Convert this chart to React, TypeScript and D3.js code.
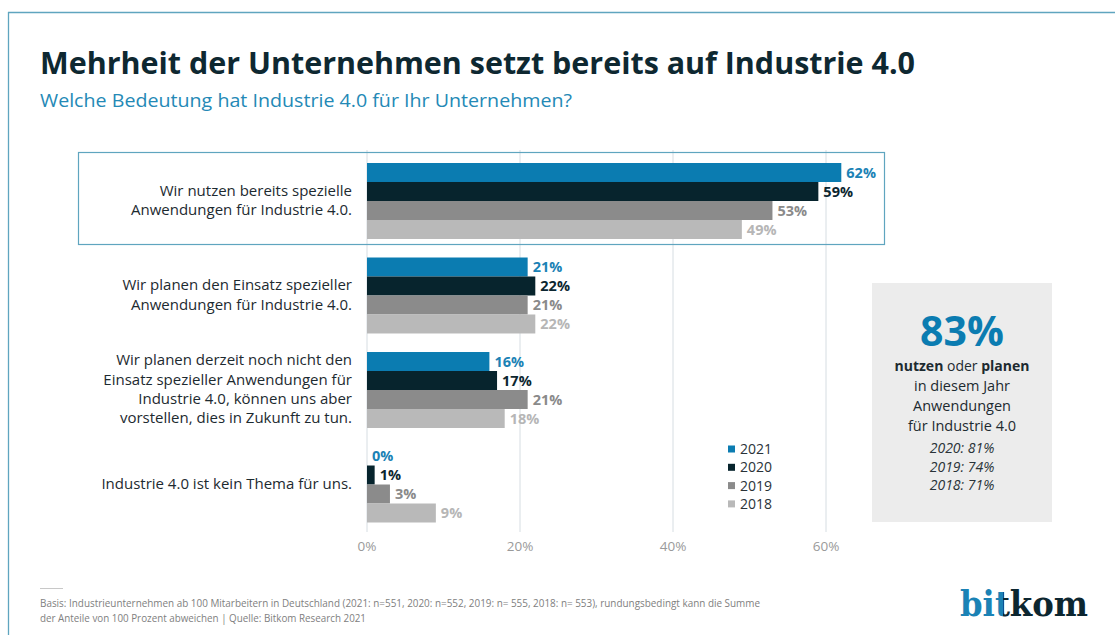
import React from "react";
import * as d3 from "d3";

const categories = [
  "Wir nutzen bereits spezielle Anwendungen für Industrie 4.0.",
  "Wir planen den Einsatz spezieller Anwendungen für Industrie 4.0.",
  "Wir planen derzeit noch nicht den Einsatz spezieller Anwendungen für Industrie 4.0, können uns aber vorstellen, dies in Zukunft zu tun.",
  "Industrie 4.0 ist kein Thema für uns.",
];

const categoryLines = [
  ["Wir nutzen bereits spezielle", "Anwendungen für Industrie 4.0."],
  ["Wir planen den Einsatz spezieller", "Anwendungen für Industrie 4.0."],
  [
    "Wir planen derzeit noch nicht den",
    "Einsatz spezieller Anwendungen für",
    "Industrie 4.0, können uns aber",
    "vorstellen, dies in Zukunft zu tun.",
  ],
  ["Industrie 4.0 ist kein Thema für uns."],
];

const years = ["2021", "2020", "2019", "2018"];
const values2021 = [62, 21, 16, 0];
const values2020 = [59, 22, 17, 1];
const values2019 = [53, 21, 21, 3];
const values2018 = [49, 22, 18, 9];
const tickValues = [0, 20, 40, 60];

const summaryYears = ["2020: 81%", "2019: 74%", "2018: 71%"];

const barColors = ["#0b7cb1", "#07242d", "#8b8b8b", "#b9b9b9"];
const labelColors = ["#1b82b5", "#0c2630", "#8a8a8a", "#b6b6b6"];

const FONT = "'Open Sans', 'Noto Sans', sans-serif";

export default function App() {
  const width = 1115;
  const height = 635;

  const series = [values2021, values2020, values2019, values2018];

  const x = d3.scaleLinear().domain([0, 60]).range([367, 826]);
  const y0 = d3
    .scaleBand<string>()
    .domain(categories)
    .range([163, 522.5])
    .paddingInner(0.196)
    .paddingOuter(0);
  const y1 = d3.scaleBand<string>().domain(years).range([0, y0.bandwidth()]).padding(0);

  // logo: one text, two colours split by a hard gradient stop
  const logoX = 960;
  const logoW = 128;
  const logoSplit = (1003 - logoX) / logoW;

  return (
    <div style={{ position: "absolute", left: 0, top: 0 }}>
      <svg width={width} height={height} style={{ display: "block", background: "#fff" }} fontFamily={FONT}>
        <defs>
          <linearGradient id="logoFill" gradientUnits="userSpaceOnUse" x1={logoX} x2={logoX + logoW} y1={0} y2={0}>
            <stop offset={logoSplit} stopColor="#1b82b5" />
            <stop offset={logoSplit} stopColor="#0c2630" />
          </linearGradient>
        </defs>

        {/* frame */}
        <line x1={8} x2={width} y1={12.5} y2={12.5} stroke="#5fa5bf" strokeWidth={1.3} />
        <line x1={8.5} x2={8.5} y1={12} y2={height} stroke="#5fa5bf" strokeWidth={1.3} />

        {/* title */}
        <text x={40} y={74} fontSize={31} fontWeight={700} fill="#0e2831" textLength={875} lengthAdjust="spacingAndGlyphs">
          Mehrheit der Unternehmen setzt bereits auf Industrie 4.0
        </text>
        <text x={40} y={107} fontSize={18} fill="#2489b6" textLength={532} lengthAdjust="spacingAndGlyphs">
          Welche Bedeutung hat Industrie 4.0 für Ihr Unternehmen?
        </text>

        {/* gridlines */}
        {tickValues.map((t) => (
          <line key={t} x1={x(t)} x2={x(t)} y1={150} y2={532} stroke="#d6dde2" strokeWidth={1} />
        ))}
        {tickValues.map((t) => (
          <text key={"t" + t} x={x(t)} y={551} fontSize={13.5} fill="#9a9a9a" textAnchor="middle">
            {t}%
          </text>
        ))}

        {/* highlight box */}
        <rect x={78.5} y={152.5} width={806} height={92} fill="none" stroke="#5fa5bf" strokeWidth={1.2} />

        {/* bars */}
        {categories.map((c, ci) => (
          <g key={c} transform={`translate(0,${y0(c)})`}>
            {years.map((yr, si) => {
              const v = series[si][ci];
              const by = y1(yr)!;
              return (
                <g key={yr}>
                  <rect x={x(0)} y={by} width={x(v) - x(0)} height={y1.bandwidth()} fill={barColors[si]} />
                  <text
                    x={x(v) + 5}
                    y={by + y1.bandwidth() / 2}
                    dy="0.36em"
                    fontSize={14.5}
                    fontWeight={700}
                    fill={labelColors[si]}
                  >
                    {v}%
                  </text>
                </g>
              );
            })}
          </g>
        ))}

        {/* category labels */}
        {categories.map((c, ci) => {
          const lines = categoryLines[ci];
          const cy = y0(c)! + y0.bandwidth() / 2;
          const lh = 19.3;
          const start = cy - ((lines.length - 1) * lh) / 2 - 1;
          return (
            <text key={"l" + c} x={352} fontSize={15} fill="#1d2a30" textAnchor="end">
              {lines.map((ln, i) => (
                <tspan key={i} x={352} y={start + i * lh} dy="0.36em">
                  {ln}
                </tspan>
              ))}
            </text>
          );
        })}

        {/* legend */}
        {years.map((yr, si) => (
          <g key={"lg" + yr} transform={`translate(728,${449 + si * 18.3})`}>
            <rect x={0} y={-3.5} width={7} height={7} fill={barColors[si]} />
            <text x={12} y={0} dy="0.36em" fontSize={14} fill="#2a3338">
              {yr}
            </text>
          </g>
        ))}

        {/* summary box */}
        <rect x={872} y={283} width={180} height={239} fill="#ececec" />
        <g textAnchor="middle" fill="#1d2a30">
          <text x={962} y={346} fontSize={41} fontWeight={700} fill="#0b7cb1">
            83%
          </text>
          <text x={962} y={371} fontSize={14}>
            <tspan fontWeight={700}>nutzen</tspan> oder <tspan fontWeight={700}>planen</tspan>
          </text>
          <text x={962} y={391} fontSize={14.5}>in diesem Jahr</text>
          <text x={962} y={411} fontSize={14.5}>Anwendungen</text>
          <text x={962} y={431} fontSize={14.5}>für Industrie 4.0</text>
          {summaryYears.map((s, i) => (
            <text key={s} x={962} y={453 + i * 18.5} fontSize={14} fontStyle="italic" fill="#2a3338">
              {s}
            </text>
          ))}
        </g>

        {/* footer */}
        <line x1={40} x2={63} y1={588.5} y2={588.5} stroke="#c8c8c8" strokeWidth={1} />
        <text x={40} y={607} fontSize={10} fill="#808080" textLength={720} lengthAdjust="spacingAndGlyphs">
          Basis: Industrieunternehmen ab 100 Mitarbeitern in Deutschland (2021: n=551, 2020: n=552, 2019: n= 555, 2018: n= 553), rundungsbedingt kann die Summe
        </text>
        <text x={40} y={622} fontSize={10} fill="#808080" textLength={326} lengthAdjust="spacingAndGlyphs">
          der Anteile von 100 Prozent abweichen | Quelle: Bitkom Research 2021
        </text>

        {/* logo */}
        <text
          x={logoX}
          y={616}
          fontSize={36}
          fontWeight={700}
          fontFamily="'DejaVu Serif', serif"
          fill="url(#logoFill)"
          textLength={logoW}
          lengthAdjust="spacingAndGlyphs"
        >
          bitkom
        </text>
      </svg>
    </div>
  );
}
